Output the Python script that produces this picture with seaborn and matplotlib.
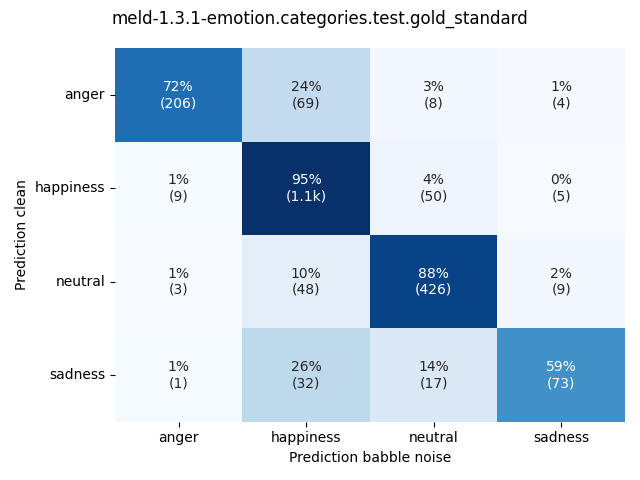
import numpy as np
import pandas as pd
import matplotlib
matplotlib.use("Agg")
import matplotlib.pyplot as plt
import seaborn as sns

labels = ["anger", "happiness", "neutral", "sadness"]
counts = np.array([
    [206, 69, 8, 4],
    [9, 1106, 50, 5],
    [3, 48, 426, 9],
    [1, 32, 17, 73],
])
title = "meld-1.3.1-emotion.categories.test.gold_standard"

pct = counts / counts.sum(axis=1, keepdims=True)

def fmt_count(c):
    if c >= 1000:
        return f"{c/1000:.1f}k"
    return str(c)

annot = np.array([[f"{p*100:.0f}%\n({fmt_count(c)})" for p, c in zip(prow, crow)]
                  for prow, crow in zip(pct, counts)])

df = pd.DataFrame(pct, index=labels, columns=labels)

fig, ax = plt.subplots(figsize=(6.4, 4.8), dpi=100)
sns.heatmap(df, annot=annot, fmt="", cmap="Blues", cbar=False, ax=ax, vmin=0)
ax.set_xlabel("Prediction babble noise")
ax.set_ylabel("Prediction clean")
ax.set_yticklabels(labels, rotation=0)
fig.suptitle(title)
fig.tight_layout()
fig.savefig("out.png")
